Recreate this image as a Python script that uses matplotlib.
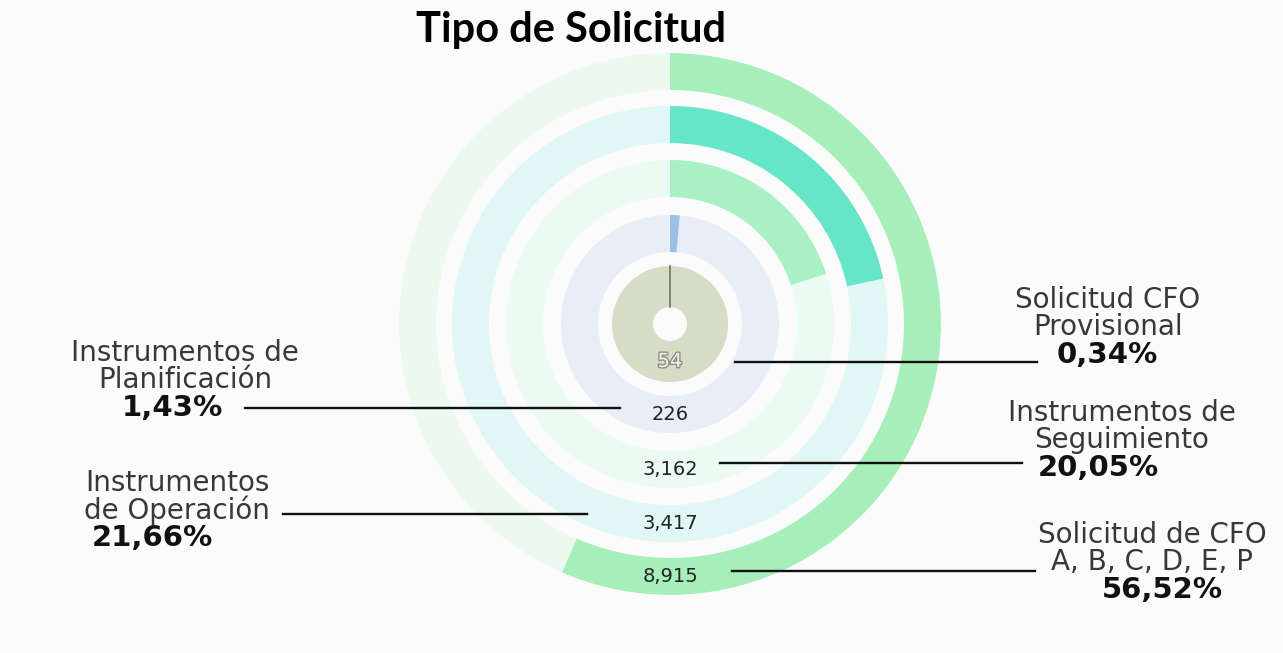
import numpy as np
import matplotlib
matplotlib.use("Agg")
import matplotlib.pyplot as plt
import matplotlib.patheffects as pe

# data (outer ring -> inner ring)
categorias = ["Solicitud de CFO\nA, B, C, D, E, P", "Instrumentos\nde Operación",
              "Instrumentos de\nSeguimiento", "Instrumentos de\nPlanificación",
              "Solicitud CFO\nProvisional"]
valores = [8915, 3417, 3162, 226, 54]
etiquetas_valor = ["8,915", "3,417", "3,162", "226", "54"]
porcentajes = [56.52, 21.66, 20.05, 1.43, 0.34]
etiquetas_pct = ["56,52%", "21,66%", "20,05%", "1,43%", "0,34%"]

# styling
bar_colors = ["#a7efba", "#66e6c9", "#a9f1c4", "#9dbfe7", "#6a7a5a"]
track_colors = ["#ebf9ee", "#e1f7f5", "#ebfaf2", "#e7eef8", "#d6dcc6"]
r_outer = [271, 218, 164, 109, 58]
r_inner = [234, 181, 127, 72, 17]

W, H = 1283, 653
fig = plt.figure(figsize=(W / 100, H / 100), dpi=100)
fig.patch.set_facecolor("#fbfbfb")

cx, cy, R = 670, 324, 271
ax = fig.add_axes([(cx - R) / W, (H - cy - R) / H, 2 * R / W, 2 * R / H],
                  projection="polar")
ax.set_theta_zero_location("N")
ax.set_theta_direction(-1)
ax.set_ylim(0, R)
ax.set_axis_off()

for i in range(len(valores)):
    thick = r_outer[i] - r_inner[i]
    mid = (r_outer[i] + r_inner[i]) / 2
    ax.barh(mid, 2 * np.pi, left=0, height=thick, color=track_colors[i],
            edgecolor="none")
    ang = porcentajes[i] / 100 * 2 * np.pi
    if porcentajes[i] < 1:
        ax.plot([0, 0], [r_inner[i], r_outer[i]], color=bar_colors[i], lw=1.2)
    else:
        ax.barh(mid, ang, left=0, height=thick, color=bar_colors[i],
                edgecolor="none")

# overlay for text / leader lines in pixel coords
ov = fig.add_axes([0, 0, 1, 1])
ov.set_xlim(0, W)
ov.set_ylim(H, 0)
ov.set_axis_off()
ov.patch.set_alpha(0)

ov.text(571, 30, "Tipo de Solicitud", ha="center", va="center",
        fontsize=30, fontweight="bold", family="Lato", color="#000000")

# numbers at the bottom of each ring
for i in range(len(valores)):
    y = cy + (r_outer[i] + r_inner[i]) / 2
    if i == 4:
        ov.text(cx, y, etiquetas_valor[i], ha="center", va="center",
                fontsize=14, family="DejaVu Sans", color="#f4f4ee",
                path_effects=[pe.withStroke(linewidth=2, foreground="#8c8c80")])
    else:
        ov.text(cx, y, etiquetas_valor[i], ha="center", va="center",
                fontsize=14, family="DejaVu Sans", color="#222222")

# labels: (text center x, first line y, pct center x, line start, line end, line y)
lab = [
    (1152, 535, 1162, 732, 1035, 571),
    (177, 483, 152, 283, 587, 514),
    (1122, 413, 1098, 720, 1022, 463),
    (185, 353, 172, 245, 620, 408),
    (1108, 300, 1107, 735, 1037, 362),
]
for i, (tx, ty, px, x0, x1, ly) in enumerate(lab):
    l1, l2 = categorias[i].split("\n")
    ov.text(tx, ty, l1, ha="center", va="center", fontsize=20,
            family="DejaVu Sans", color="#383838")
    ov.text(tx, ty + 27, l2, ha="center", va="center", fontsize=20,
            family="DejaVu Sans", color="#383838")
    ov.text(px, ty + 55, etiquetas_pct[i], ha="center",
            va="center", fontsize=21, family="DejaVu Sans", fontweight="bold",
            color="#111111")
    ov.plot([x0, x1], [ly, ly], color="#111111", lw=1.7)

fig.savefig("out.png", dpi=100, facecolor=fig.get_facecolor())
